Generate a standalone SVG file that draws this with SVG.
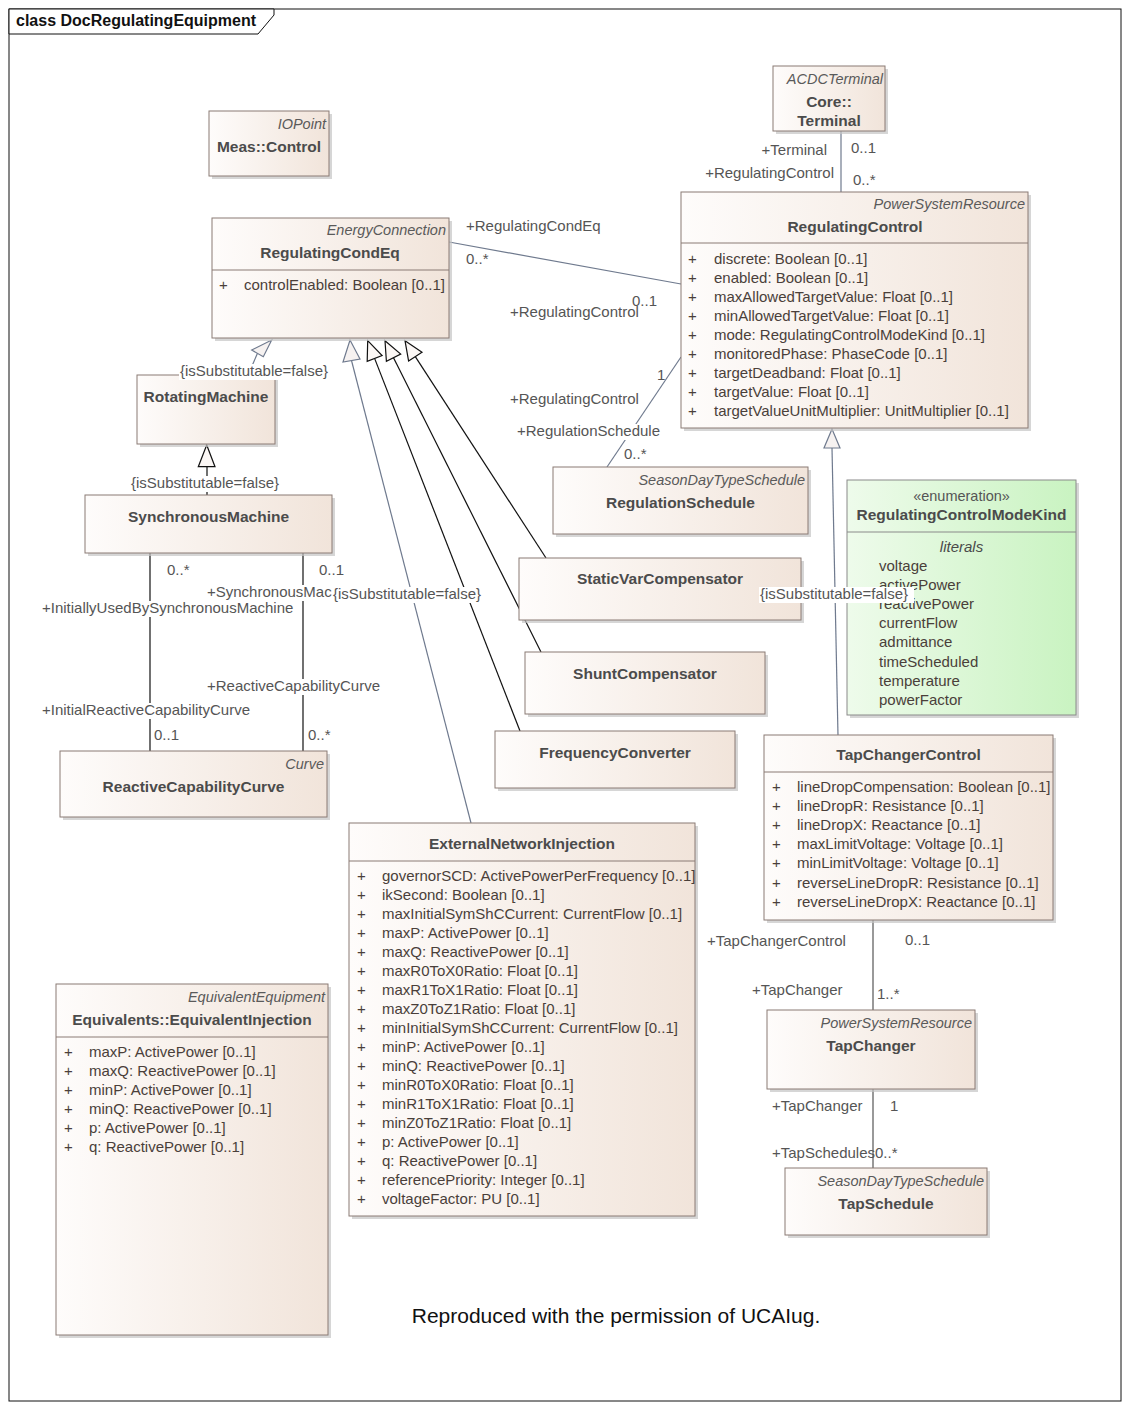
<svg xmlns="http://www.w3.org/2000/svg" width="1129" height="1410" viewBox="0 0 1129 1410">
<defs>
<linearGradient id="cls" x1="0" y1="0" x2="1" y2="0">
<stop offset="0" stop-color="#fefcfb"/>
<stop offset="1" stop-color="#f1e4da"/>
</linearGradient>
<linearGradient id="enm" x1="0" y1="0" x2="1" y2="0">
<stop offset="0" stop-color="#eefbeb"/>
<stop offset="1" stop-color="#c9f3c1"/>
</linearGradient>
<style>
text{font-family:"Liberation Sans",Arial,sans-serif}
.box{fill:url(#cls);stroke:#8a7b74;stroke-width:1}
.ebox{fill:url(#enm);stroke:#8a8a8a;stroke-width:1}
.sh{fill:#c4c4c4;opacity:.7}
.dv{stroke:#8a7b74;stroke-width:1}
.nm{font-size:15.5px;font-weight:bold;fill:#4b4b4b;text-anchor:middle}
.st{font-size:14.5px;font-style:italic;fill:#5a5a5a;text-anchor:end}
.at{font-size:15px;fill:#4a3f3a}
.lb{font-size:15px;fill:#555}
.gl{stroke:#6f7a8e;stroke-width:1.2;fill:none}
.bl{stroke:#111;stroke-width:1.2;fill:none}
.dl{stroke:#555;stroke-width:1.2;fill:none}
.tb{fill:#fbf7f5;stroke:#111;stroke-width:1.2}
.tg{fill:#f6f2f1;stroke:#6f7a8e;stroke-width:1.2}
.bg{fill:#fff}
</style>
</defs>

<rect x="0" y="0" width="1129" height="1410" fill="#fff"/>
<g id="frame">
<rect x="9" y="9" width="1112" height="1392" fill="none" stroke="#111" stroke-width="1"/>
<polygon points="9,9 274,9 274,15 258,34 9,34" fill="#fff" stroke="#111" stroke-width="1"/>
<text x="16" y="26" style="font-size:16px;font-weight:bold;fill:#111">class DocRegulatingEquipment</text>
</g>

<g id="connectors">
<path class="gl" d="M841 131 V192"/>
<path class="gl" d="M449 242 L681 284"/>
<path class="gl" d="M681 357 L607 467"/>
<path class="gl" d="M257.5 353.3 L248 375"/>
<polygon class="tg" points="271.7,340 263.3,356.7 251.7,350"/>
<path class="gl" d="M351.5 360.5 L471 823"/>
<polygon class="tg" points="350,340 360,359 343,362"/>
<path class="gl" d="M832 448 L838 735"/>
<polygon class="tg" points="832,429 824,448 840,448"/>
<path class="bl" d="M207 495 V466.7"/>
<polygon class="tb" points="206.7,445 198.3,466.7 215,466.7"/>
<path class="bl" d="M374.6 358.4 L520 731"/>
<polygon class="tb" points="367.7,340.7 382.1,355.5 367.2,361.3"/>
<path class="bl" d="M393.5 357.7 L541 652"/>
<polygon class="tb" points="385,340.7 400.7,354.1 386.4,361.3"/>
<path class="bl" d="M415.3 356.6 L546 558"/>
<polygon class="tb" points="405,340.7 422,352.2 408.6,361"/>
<path class="bl" d="M150 553 V751"/>
<path class="bl" d="M303 553 V751"/>
<path class="dl" d="M873 920 V1010"/>
<path class="dl" d="M873 1089 V1168"/>
</g>

<g id="meas-control">
<rect class="sh" x="212" y="114" width="120" height="65"/>
<rect class="box" x="209" y="111" width="120" height="65"/>
<text class="st" x="326" y="129">IOPoint</text>
<text class="nm" x="269" y="152">Meas::Control</text>
</g>

<g id="core-terminal">
<rect class="sh" x="776" y="69" width="112" height="65"/>
<rect class="box" x="773" y="66" width="112" height="65"/>
<text class="st" x="883" y="84">ACDCTerminal</text>
<text class="nm" x="829" y="107">Core::</text>
<text class="nm" x="829" y="126">Terminal</text>
</g>

<g id="regulating-cond-eq">
<rect class="sh" x="215" y="221" width="237" height="120"/>
<rect class="box" x="212" y="218" width="237" height="120"/>
<text class="st" x="446" y="235">EnergyConnection</text>
<text class="nm" x="330" y="258">RegulatingCondEq</text>
<line class="dv" x1="212" y1="270" x2="449" y2="270"/>
<text class="at" x="219" y="290">+</text>
<text class="at" x="244" y="290">controlEnabled: Boolean [0..1]</text>
</g>

<g id="regulating-control">
<rect class="sh" x="684" y="195" width="347" height="236"/>
<rect class="box" x="681" y="192" width="347" height="236"/>
<text class="st" x="1025" y="209">PowerSystemResource</text>
<text class="nm" x="855" y="232">RegulatingControl</text>
<line class="dv" x1="681" y1="243" x2="1028" y2="243"/>
<text class="at" x="688" y="264"><tspan x="688">+</tspan><tspan x="688" dy="19">+</tspan><tspan x="688" dy="19">+</tspan><tspan x="688" dy="19">+</tspan><tspan x="688" dy="19">+</tspan><tspan x="688" dy="19">+</tspan><tspan x="688" dy="19">+</tspan><tspan x="688" dy="19">+</tspan><tspan x="688" dy="19">+</tspan></text>
<text class="at" x="714" y="264"><tspan x="714">discrete: Boolean [0..1]</tspan><tspan x="714" dy="19">enabled: Boolean [0..1]</tspan><tspan x="714" dy="19">maxAllowedTargetValue: Float [0..1]</tspan><tspan x="714" dy="19">minAllowedTargetValue: Float [0..1]</tspan><tspan x="714" dy="19">mode: RegulatingControlModeKind [0..1]</tspan><tspan x="714" dy="19">monitoredPhase: PhaseCode [0..1]</tspan><tspan x="714" dy="19">targetDeadband: Float [0..1]</tspan><tspan x="714" dy="19">targetValue: Float [0..1]</tspan><tspan x="714" dy="19">targetValueUnitMultiplier: UnitMultiplier [0..1]</tspan></text>
</g>

<g id="rotating-machine">
<rect class="sh" x="140" y="378" width="138" height="69"/>
<rect class="box" x="137" y="375" width="138" height="69"/>
<text class="nm" x="206" y="402">RotatingMachine</text>
</g>

<g id="synchronous-machine">
<rect class="sh" x="88" y="498" width="247" height="58"/>
<rect class="box" x="85" y="495" width="247" height="58"/>
<text class="nm" x="208.5" y="522">SynchronousMachine</text>
</g>

<g id="reactive-capability-curve">
<rect class="sh" x="63" y="754" width="267" height="66"/>
<rect class="box" x="60" y="751" width="267" height="66"/>
<text class="st" x="324" y="769">Curve</text>
<text class="nm" x="193.5" y="792">ReactiveCapabilityCurve</text>
</g>

<g id="regulation-schedule">
<rect class="sh" x="556" y="470" width="255" height="67"/>
<rect class="box" x="553" y="467" width="255" height="67"/>
<text class="st" x="805" y="485">SeasonDayTypeSchedule</text>
<text class="nm" x="680.5" y="508">RegulationSchedule</text>
</g>

<g id="static-var-compensator">
<rect class="sh" x="522" y="561" width="282" height="62"/>
<rect class="box" x="519" y="558" width="282" height="62"/>
<text class="nm" x="660" y="584">StaticVarCompensator</text>
</g>

<g id="shunt-compensator">
<rect class="sh" x="528" y="655" width="240" height="62"/>
<rect class="box" x="525" y="652" width="240" height="62"/>
<text class="nm" x="645" y="679">ShuntCompensator</text>
</g>

<g id="frequency-converter">
<rect class="sh" x="498" y="734" width="240" height="57"/>
<rect class="box" x="495" y="731" width="240" height="57"/>
<text class="nm" x="615" y="758">FrequencyConverter</text>
</g>

<g id="regulating-control-mode-kind">
<rect class="sh" x="850" y="483" width="229" height="235"/>
<rect class="ebox" x="847" y="480" width="229" height="235"/>
<text x="961.5" y="501" style="font-size:14.5px;fill:#555;text-anchor:middle">«enumeration»</text>
<text class="nm" x="961.5" y="520">RegulatingControlModeKind</text>
<line x1="847" y1="532" x2="1076" y2="532" stroke="#8a8a8a" stroke-width="1"/>
<text x="961.5" y="552" style="font-size:15px;font-style:italic;fill:#4a4a4a;text-anchor:middle">literals</text>
<text class="at" x="879" y="571"><tspan x="879">voltage</tspan><tspan x="879" dy="19.1">activePower</tspan><tspan x="879" dy="19.1">reactivePower</tspan><tspan x="879" dy="19.1">currentFlow</tspan><tspan x="879" dy="19.1">admittance</tspan><tspan x="879" dy="19.1">timeScheduled</tspan><tspan x="879" dy="19.1">temperature</tspan><tspan x="879" dy="19.1">powerFactor</tspan></text>
</g>

<g id="tap-changer-control">
<rect class="sh" x="767" y="738" width="289" height="185"/>
<rect class="box" x="764" y="735" width="289" height="185"/>
<text class="nm" x="908.5" y="760">TapChangerControl</text>
<line class="dv" x1="764" y1="772" x2="1053" y2="772"/>
<text class="at" x="772" y="792"><tspan x="772">+</tspan><tspan x="772" dy="19.1">+</tspan><tspan x="772" dy="19.1">+</tspan><tspan x="772" dy="19.1">+</tspan><tspan x="772" dy="19.1">+</tspan><tspan x="772" dy="19.1">+</tspan><tspan x="772" dy="19.1">+</tspan></text>
<text class="at" x="797" y="792"><tspan x="797">lineDropCompensation: Boolean [0..1]</tspan><tspan x="797" dy="19.1">lineDropR: Resistance [0..1]</tspan><tspan x="797" dy="19.1">lineDropX: Reactance [0..1]</tspan><tspan x="797" dy="19.1">maxLimitVoltage: Voltage [0..1]</tspan><tspan x="797" dy="19.1">minLimitVoltage: Voltage [0..1]</tspan><tspan x="797" dy="19.1">reverseLineDropR: Resistance [0..1]</tspan><tspan x="797" dy="19.1">reverseLineDropX: Reactance [0..1]</tspan></text>
</g>

<g id="external-network-injection">
<rect class="sh" x="352" y="826" width="346" height="393"/>
<rect class="box" x="349" y="823" width="346" height="393"/>
<text class="nm" x="522" y="849">ExternalNetworkInjection</text>
<line class="dv" x1="349" y1="861" x2="695" y2="861"/>
<text class="at" x="357" y="881"><tspan x="357">+</tspan><tspan x="357" dy="19">+</tspan><tspan x="357" dy="19">+</tspan><tspan x="357" dy="19">+</tspan><tspan x="357" dy="19">+</tspan><tspan x="357" dy="19">+</tspan><tspan x="357" dy="19">+</tspan><tspan x="357" dy="19">+</tspan><tspan x="357" dy="19">+</tspan><tspan x="357" dy="19">+</tspan><tspan x="357" dy="19">+</tspan><tspan x="357" dy="19">+</tspan><tspan x="357" dy="19">+</tspan><tspan x="357" dy="19">+</tspan><tspan x="357" dy="19">+</tspan><tspan x="357" dy="19">+</tspan><tspan x="357" dy="19">+</tspan><tspan x="357" dy="19">+</tspan></text>
<text class="at" x="382" y="881"><tspan x="382">governorSCD: ActivePowerPerFrequency [0..1]</tspan><tspan x="382" dy="19">ikSecond: Boolean [0..1]</tspan><tspan x="382" dy="19">maxInitialSymShCCurrent: CurrentFlow [0..1]</tspan><tspan x="382" dy="19">maxP: ActivePower [0..1]</tspan><tspan x="382" dy="19">maxQ: ReactivePower [0..1]</tspan><tspan x="382" dy="19">maxR0ToX0Ratio: Float [0..1]</tspan><tspan x="382" dy="19">maxR1ToX1Ratio: Float [0..1]</tspan><tspan x="382" dy="19">maxZ0ToZ1Ratio: Float [0..1]</tspan><tspan x="382" dy="19">minInitialSymShCCurrent: CurrentFlow [0..1]</tspan><tspan x="382" dy="19">minP: ActivePower [0..1]</tspan><tspan x="382" dy="19">minQ: ReactivePower [0..1]</tspan><tspan x="382" dy="19">minR0ToX0Ratio: Float [0..1]</tspan><tspan x="382" dy="19">minR1ToX1Ratio: Float [0..1]</tspan><tspan x="382" dy="19">minZ0ToZ1Ratio: Float [0..1]</tspan><tspan x="382" dy="19">p: ActivePower [0..1]</tspan><tspan x="382" dy="19">q: ReactivePower [0..1]</tspan><tspan x="382" dy="19">referencePriority: Integer [0..1]</tspan><tspan x="382" dy="19">voltageFactor: PU [0..1]</tspan></text>
</g>

<g id="equivalent-injection">
<rect class="sh" x="59" y="987" width="272" height="351"/>
<rect class="box" x="56" y="984" width="272" height="351"/>
<text class="st" x="325" y="1002">EquivalentEquipment</text>
<text class="nm" x="192" y="1025">Equivalents::EquivalentInjection</text>
<line class="dv" x1="56" y1="1037" x2="328" y2="1037"/>
<text class="at" x="64" y="1057"><tspan x="64">+</tspan><tspan x="64" dy="19">+</tspan><tspan x="64" dy="19">+</tspan><tspan x="64" dy="19">+</tspan><tspan x="64" dy="19">+</tspan><tspan x="64" dy="19">+</tspan></text>
<text class="at" x="89" y="1057"><tspan x="89">maxP: ActivePower [0..1]</tspan><tspan x="89" dy="19">maxQ: ReactivePower [0..1]</tspan><tspan x="89" dy="19">minP: ActivePower [0..1]</tspan><tspan x="89" dy="19">minQ: ReactivePower [0..1]</tspan><tspan x="89" dy="19">p: ActivePower [0..1]</tspan><tspan x="89" dy="19">q: ReactivePower [0..1]</tspan></text>
</g>

<g id="tap-changer">
<rect class="sh" x="770" y="1013" width="208" height="79"/>
<rect class="box" x="767" y="1010" width="208" height="79"/>
<text class="st" x="972" y="1028">PowerSystemResource</text>
<text class="nm" x="871" y="1051">TapChanger</text>
</g>

<g id="tap-schedule">
<rect class="sh" x="788" y="1171" width="202" height="67"/>
<rect class="box" x="785" y="1168" width="202" height="67"/>
<text class="st" x="984" y="1186">SeasonDayTypeSchedule</text>
<text class="nm" x="886" y="1209">TapSchedule</text>
</g>

<g id="connector-labels">
<text class="lb" x="827" y="155" text-anchor="end">+Terminal</text>
<text class="lb" x="851" y="153">0..1</text>
<text class="lb" x="834" y="178" text-anchor="end">+RegulatingControl</text>
<text class="lb" x="853" y="185">0..*</text>
<text class="lb" x="466" y="231">+RegulatingCondEq</text>
<text class="lb" x="466" y="264">0..*</text>
<text class="lb" x="632" y="306">0..1</text>
<text class="lb" x="510" y="317">+RegulatingControl</text>
<text class="lb" x="657" y="380">1</text>
<text class="lb" x="510" y="404">+RegulatingControl</text>
<rect class="bg" x="516" y="424" width="148" height="16"/>
<text class="lb" x="517" y="436">+RegulationSchedule</text>
<text class="lb" x="624" y="459">0..*</text>
<rect class="bg" x="179" y="364" width="156" height="16"/>
<text class="lb" x="180" y="376">{isSubstitutable=false}</text>
<rect class="bg" x="130" y="476" width="156" height="16"/>
<text class="lb" x="131" y="488">{isSubstitutable=false}</text>
<text class="lb" x="167" y="575">0..*</text>
<text class="lb" x="319" y="575">0..1</text>
<rect class="bg" x="206" y="585" width="126" height="16"/>
<text class="lb" x="207" y="597">+SynchronousMac</text>
<rect class="bg" x="332" y="587" width="157" height="16"/>
<text class="lb" x="333" y="599">{isSubstitutable=false}</text>
<rect class="bg" x="41" y="601" width="256" height="16"/>
<text class="lb" x="42" y="613">+InitiallyUsedBySynchronousMachine</text>
<rect class="bg" x="206" y="679" width="177" height="16"/>
<text class="lb" x="207" y="691">+ReactiveCapabilityCurve</text>
<rect class="bg" x="41" y="703" width="214" height="16"/>
<text class="lb" x="42" y="715">+InitialReactiveCapabilityCurve</text>
<text class="lb" x="154" y="740">0..1</text>
<text class="lb" x="308" y="740">0..*</text>
<rect class="bg" x="759" y="587" width="155" height="16"/>
<text class="lb" x="760" y="599">{isSubstitutable=false}</text>
<text class="lb" x="707" y="946">+TapChangerControl</text>
<text class="lb" x="905" y="945">0..1</text>
<text class="lb" x="752" y="995">+TapChanger</text>
<text class="lb" x="877" y="999">1..*</text>
<text class="lb" x="772" y="1111">+TapChanger</text>
<text class="lb" x="890" y="1111">1</text>
<text class="lb" x="772" y="1158">+TapSchedules0..*</text>
</g>

<text x="616" y="1323" style="font-size:21px;fill:#111;text-anchor:middle">Reproduced with the permission of UCAIug.</text>
</svg>
